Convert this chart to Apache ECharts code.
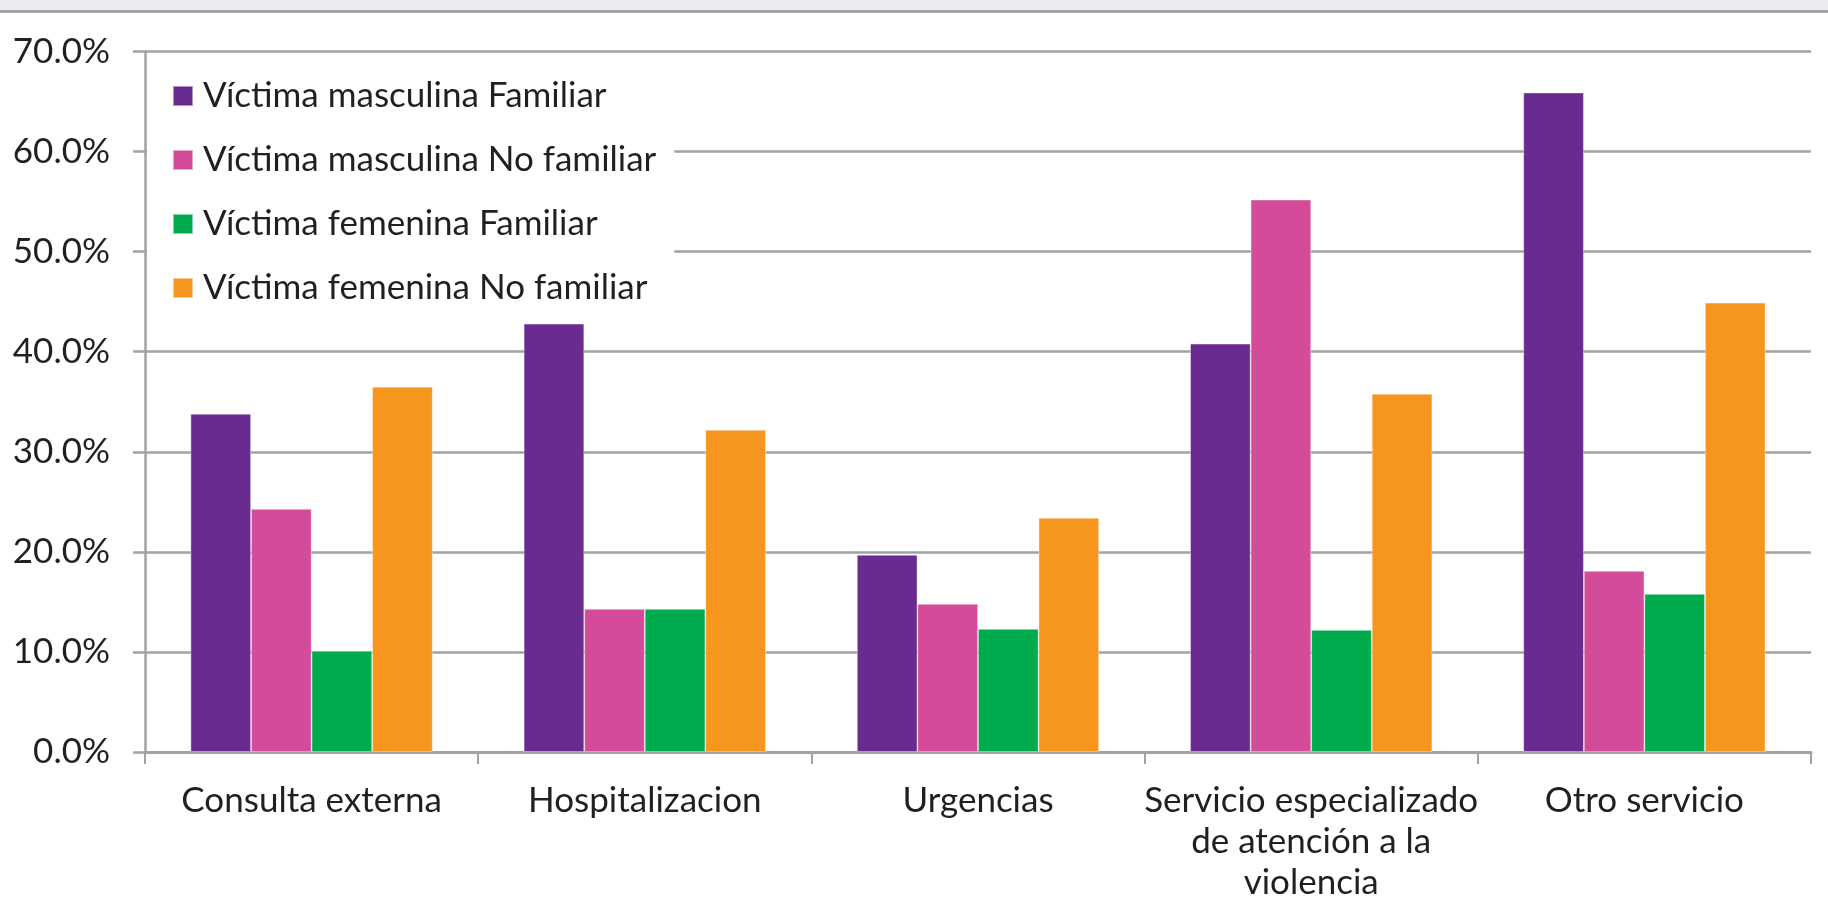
<!DOCTYPE html>
<html>
<head>
<meta charset="utf-8">
<script src="https://cdn.jsdelivr.net/npm/echarts@6/dist/echarts.min.js"></script>
<style>
  html, body { margin: 0; padding: 0; background: #fff; }
  #chart { width: 1828px; height: 898px; }
</style>
</head>
<body>
<div id="chart"></div>
<script>
const categories = [
  "Consulta externa",
  "Hospitalizacion",
  "Urgencias",
  "Servicio especializado\nde atención a la\nviolencia",
  "Otro servicio",
];
const seriesNames = [
  "Víctima masculina Familiar",
  "Víctima masculina No familiar",
  "Víctima femenina Familiar",
  "Víctima femenina No familiar",
];
const masculinaFamiliar = [33.8, 42.8, 19.7, 40.8, 65.9];
const masculinaNoFamiliar = [24.3, 14.3, 14.8, 55.2, 18.1];
const femeninaFamiliar = [10.1, 14.3, 12.3, 12.2, 15.8];
const femeninaNoFamiliar = [36.5, 32.2, 23.4, 35.8, 44.9];
const colors = ["#692b8f", "#d44b9a", "#00ab4d", "#f7961f"];

const font = "Lato";
const textColor = "#231f20";
const gray = "#a2a2a6";

const myChart = echarts.init(document.getElementById("chart"));

const values = [masculinaFamiliar, masculinaNoFamiliar, femeninaFamiliar, femeninaNoFamiliar];
let series = values.map((data, i) => ({
  name: seriesNames[i],
  type: "bar",
  data: data,
  barGap: "0%",
  barCategoryGap: "27.3%",
  itemStyle: {
    color: colors[i],
    borderColor: "rgba(255,255,255,0.5)",
    borderWidth: 0.8,
  },
}));

let option = {
  animation: false,
  textStyle: { fontFamily: font, color: textColor },
  grid: {
    left: 145,
    right: 17,
    top: 51.5,
    bottom: 146,
    outerBoundsMode: "none",
  },
  legend: {
    orient: "vertical",
    left: 147,
    top: 62,
    padding: [14, 18, 14, 25],
    backgroundColor: "#ffffff",
    itemWidth: 20,
    itemHeight: 20,
    itemGap: 24,
    icon: "rect",
    textStyle: {
      fontFamily: font,
      fontSize: 35,
      color: textColor,
      lineHeight: 40,
      padding: [0, 0, 0, 5],
    },
    data: seriesNames,
  },
  xAxis: {
    type: "category",
    data: categories,
    axisLine: { lineStyle: { color: gray, width: 3 } },
    axisTick: { show: true, length: 12, lineStyle: { color: gray, width: 2 } },
    axisLabel: {
      fontFamily: font,
      fontSize: 35,
      color: textColor,
      lineHeight: 41,
      margin: 28,
      interval: 0,
    },
  },
  yAxis: {
    type: "value",
    min: 0,
    max: 70,
    interval: 10,
    axisLine: { show: true, lineStyle: { color: gray, width: 2.5 } },
    axisTick: { show: true, length: 12, lineStyle: { color: gray, width: 2.5 } },
    splitLine: { show: true, lineStyle: { color: gray, width: 2.5 } },
    axisLabel: {
      fontFamily: font,
      fontSize: 35,
      color: textColor,
      margin: 35,
      formatter: (v) => v.toFixed(1) + "%",
    },
  },
  graphic: [
    {
      type: "rect",
      shape: { x: 0, y: 0, width: 1828, height: 11 },
      style: { fill: "#ecebef" },
      silent: true,
    },
    {
      type: "line",
      shape: { x1: 0, y1: 11.5, x2: 1828, y2: 11.5 },
      style: { stroke: "#a4a4a8", lineWidth: 3 },
      silent: true,
    },
  ],
  series,
};

myChart.setOption(option, true);
</script>
</body>
</html>
